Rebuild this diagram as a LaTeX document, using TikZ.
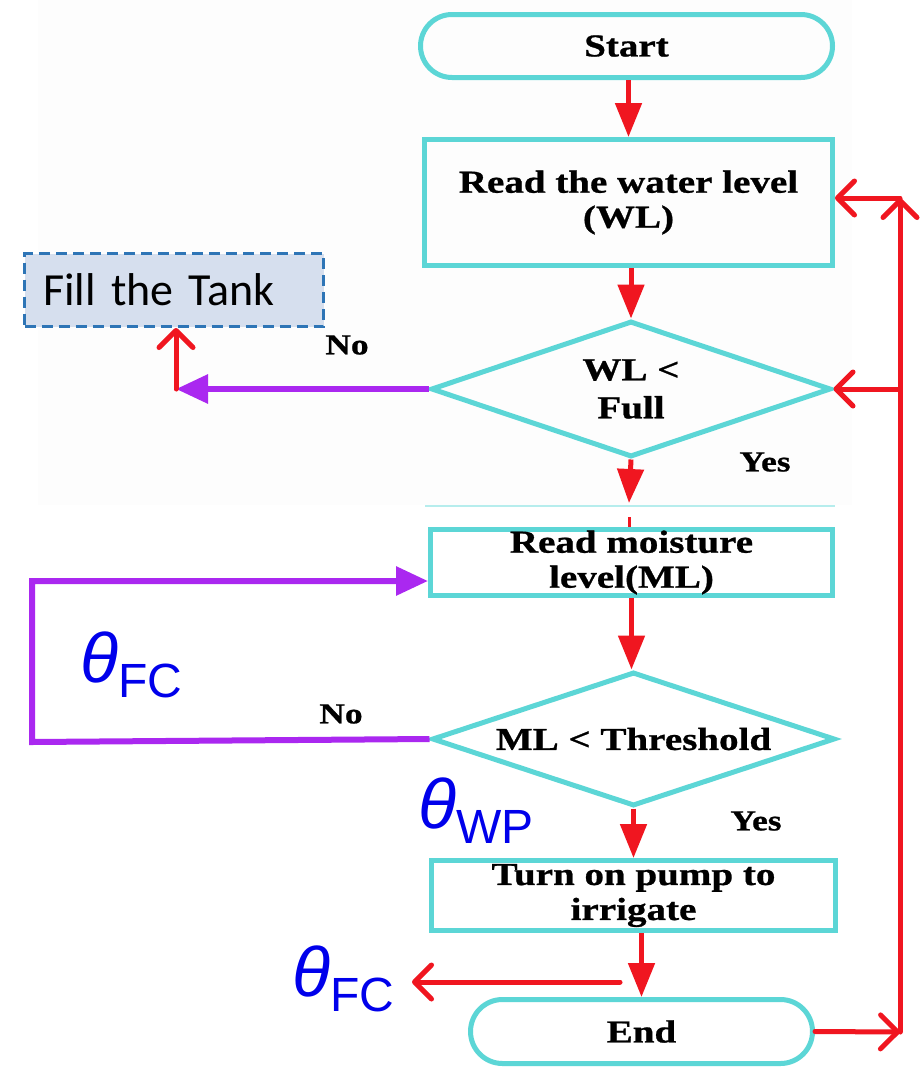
\documentclass[tikz,border=0pt]{standalone}
\usepackage{fontspec}
\newfontfamily\flowfont[FakeStretch=1.22,FakeBold=0.8]{Liberation Serif}
\newfontfamily\calfont{Carlito}
\newfontfamily\arialfont{Liberation Sans}
\usetikzlibrary{shapes.geometric,shapes.misc,arrows.meta}
\definecolor{cyanline}{RGB}{92,214,214}
\definecolor{redline}{RGB}{240,22,32}
\definecolor{purp}{RGB}{170,40,240}
\definecolor{thblue}{RGB}{0,0,235}
\definecolor{tankfill}{RGB}{214,223,238}
\definecolor{tankdraw}{RGB}{46,117,182}
\newcommand\thlabel[1]{{\arialfont\fontsize{70}{70}\selectfont\itshape θ}\raisebox{-15pt}{\arialfont\fontsize{48}{48}\selectfont #1}}
\tikzset{
  flow/.style={draw=cyanline, line width=5pt, inner sep=0pt, align=center,
    font=\flowfont\bfseries\fontsize{32}{35}\selectfont},
  mainarrow/.style={draw=redline, line width=5pt, -{Triangle[width=26pt,length=34pt]}},
  sidearrow/.style={draw=redline, line width=5pt, line cap=round, -{Straight Barb[length=17pt,width=34pt,round]}},
  looparrow/.style={draw=purp, line width=6pt, -{Triangle[width=28pt,length=32pt]}},
  lbl/.style={font=\flowfont\bfseries\fontsize{29}{29}\selectfont, inner sep=0pt},
  thetalbl/.style={text=thblue, inner sep=0pt, anchor=base west}
}
\begin{document}
\begin{tikzpicture}[x=1pt,y=-1pt]
\useasboundingbox (0,0) rectangle (922,1068);
\fill[white] (0,0) rectangle (922,1068);
\fill[black!0.7] (38,0) rectangle (852,505);
% nodes
\node[flow, rounded rectangle, minimum width=412pt, minimum height=63pt] (start) at (626.5,46) {Start};
\node[flow, rectangle, minimum width=408pt, minimum height=126pt] (rwl) at (628.5,202.5) {Read the water level\\(WL)};
\node[flow, diamond, aspect=2.9, minimum width=400pt, minimum height=136pt] (dwl) at (631,389) {WL <\\[3pt]Full};
\node[flow, rectangle, minimum width=402pt, minimum height=66pt] (rml) at (631.5,562.5) {Read moisture\\level(ML)};
\node[flow, diamond, aspect=3, minimum width=403pt, minimum height=134pt] (dml) at (633.5,739) {ML < Threshold};
\node[flow, rectangle, minimum width=404pt, minimum height=70pt] (pump) at (633.5,895.5) {Turn on pump to\\irrigate};
\node[flow, rounded rectangle, minimum width=342pt, minimum height=64pt] (endn) at (641.5,1031.5) {End};
\node[draw=tankdraw, fill=tankfill, line width=3pt, dash pattern=on 11pt off 6pt,
      minimum width=299pt, minimum height=73pt, text width=262pt, inner xsep=18pt,
      align=left, font=\calfont\fontsize{46}{46}\selectfont] (tank) at (174,290) {Fill the Tank};
% labels
\node[lbl] (no1) at (347,345) {No};
\node[lbl] (yes1) at (765,462) {Yes};
\node[lbl] (no2) at (341,714) {No};
\node[lbl] (yes2) at (756,821) {Yes};
\node[thetalbl] (thfc1) at (80,682) {\thlabel{FC}};
\node[thetalbl] (thwp) at (418,828) {\thlabel{WP}};
\node[thetalbl] (thfc2) at (292,996) {\thlabel{FC}};
% coordinates
\coordinate (cut) at (629,503);
\coordinate (tick) at (629,517);
\coordinate (tankpt) at (176,389);
\coordinate (loopbl) at (32,742);
\coordinate (looptl) at (32,581);
\coordinate (brk) at (620,982);
\coordinate (fctip) at (412,982);
\coordinate (rb) at (900,1032);
\coordinate (rt) at (900,198);
\coordinate (rm) at (900,389);
% main flow
\draw[mainarrow] (rwl.north |- start.south) -- (rwl.north);
\draw[mainarrow] (dwl.north |- rwl.south) -- (dwl.north);
\draw[mainarrow] (dwl.south) -- (cut);
\draw[cyanline!45, line width=1.5pt] (425,506) -- (835,506);
\draw[redline, line width=3pt] (tick) -- (tick |- rml.north);
\draw[mainarrow] (rml.south) -- (rml.south |- dml.north);
\draw[mainarrow] (dml.south) -- (dml.south |- pump.north);
\draw[mainarrow] (endn.north |- pump.south) -- (endn.north);
% branches
\draw[looparrow] (dwl.west) -- (tankpt);
\draw[sidearrow] (tankpt) -- (tankpt |- tank.south);
\draw[looparrow] (dml.west) -- (loopbl) -- (looptl) -- (rml.west |- looptl);
\draw[sidearrow] (brk) -- (fctip);
\draw[sidearrow] (endn.east) -- (rb);
\draw[sidearrow] (rb) -- (rt);
\draw[sidearrow] (rt) -- (rwl.east |- rt);
\draw[sidearrow] (rm) -- (dwl.east);
\end{tikzpicture}
\end{document}
